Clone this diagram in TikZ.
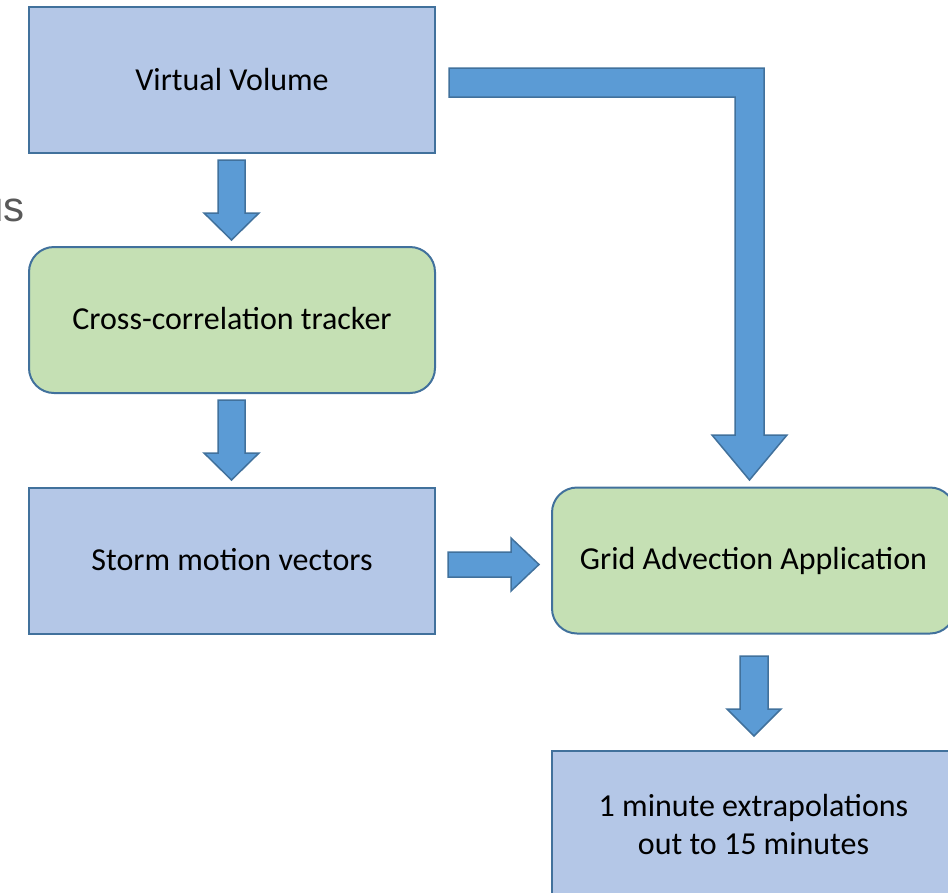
\documentclass[tikz,border=0pt]{standalone}
\usepackage{fontspec}
\setmainfont{Carlito}
\newfontfamily\grayfont{Liberation Sans}
\definecolor{boxblue}{HTML}{B4C7E7}
\definecolor{boxgreen}{HTML}{C5E0B4}
\definecolor{edgeblue}{HTML}{41719C}
\definecolor{arrowblue}{HTML}{5B9BD5}
\definecolor{graytext}{HTML}{595959}
\tikzset{
  bluebox/.style={draw=edgeblue, line width=2pt, fill=boxblue, rectangle,
    minimum width=406pt, minimum height=146pt, inner sep=0pt, align=center,
    font=\fontsize{32}{40}\selectfont},
  greenbox/.style={bluebox, fill=boxgreen, rounded corners=25pt},
  blockarrow/.style={draw=edgeblue, line width=1.5pt, fill=arrowblue, line join=miter}
}
\begin{document}
\begin{tikzpicture}[x=1pt,y=-1pt]
\useasboundingbox (0,0) rectangle (948,892);
\clip (0,0) rectangle (948,892);
% partial text at left edge
\node[anchor=base east, inner sep=0pt, text=graytext, font=\grayfont\fontsize{42}{50}\selectfont] (frag) at (25,221) {us};
% boxes
\node[bluebox] (vv) at (232,80) {Virtual Volume};
\node[greenbox] (cc) at (232,320) {\raisebox{3pt}{Cross-correlation tracker}};
\node[bluebox] (smv) at (232,560.5) {\raisebox{2pt}{Storm motion vectors}};
\node[greenbox, minimum width=403pt] (gaa) at (753.5,560.5) {\raisebox{3pt}{Grid Advection Application}};
\node[bluebox, minimum width=403pt] (ext) at (753.5,824) {1 minute extrapolations\\[-2pt]out to 15 minutes};
% block arrows
\draw[blockarrow] (218,160) -- (245,160) -- (245,213) -- (259,213) -- (231.5,240) -- (204,213) -- (218,213) -- cycle;
\draw[blockarrow] (218,400) -- (245,400) -- (245,453) -- (259,453) -- (231.5,480) -- (204,453) -- (218,453) -- cycle;
\draw[blockarrow] (448,552) -- (511,552) -- (511,538) -- (539,564.5) -- (511,591) -- (511,577) -- (448,577) -- cycle;
\draw[blockarrow] (449,68) -- (764,68) -- (764,435) -- (787,435) -- (749.5,480) -- (712,435) -- (735,435) -- (735,97) -- (449,97) -- cycle;
\draw[blockarrow] (740,656) -- (768,656) -- (768,709) -- (781,709) -- (754,736) -- (727,709) -- (740,709) -- cycle;
\end{tikzpicture}
\end{document}
